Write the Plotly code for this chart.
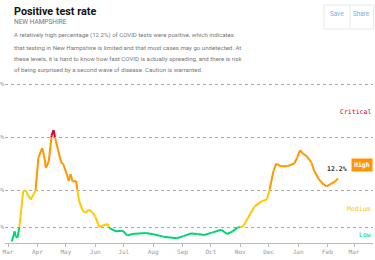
import plotly.graph_objects as go
import pandas as pd

dates = ["2020-03-05","2020-03-08","2020-03-09","2020-03-11","2020-03-13","2020-03-17","2020-03-20",
         "2020-03-22","2020-03-25","2020-03-28","2020-03-30","2020-04-02","2020-04-06","2020-04-08",
         "2020-04-10","2020-04-13","2020-04-16","2020-04-18","2020-04-20","2020-04-23","2020-04-26",
         "2020-04-28","2020-05-02","2020-05-04","2020-05-06","2020-05-08","2020-05-12","2020-05-13",
         "2020-05-15","2020-05-19","2020-05-22","2020-05-25","2020-05-29","2020-06-01","2020-06-05",
         "2020-06-09","2020-06-14","2020-06-16","2020-06-23","2020-06-30","2020-07-05","2020-07-10",
         "2020-07-17","2020-07-24","2020-07-31","2020-08-12","2020-08-26","2020-09-02","2020-09-10",
         "2020-09-17","2020-09-24","2020-10-03","2020-10-12","2020-10-18","2020-10-24","2020-10-29",
         "2020-11-04","2020-11-09","2020-11-16","2020-11-24","2020-11-29","2020-12-02","2020-12-06",
         "2020-12-09","2020-12-13","2020-12-21","2020-12-28","2020-12-31","2021-01-03","2021-01-06",
         "2021-01-10","2021-01-15","2021-01-18","2021-01-23","2021-01-28","2021-01-31","2021-02-05",
         "2021-02-09","2021-02-11","2021-02-12"]
values = [0.3,2.2,1.2,1.0,3.1,9.8,9.9,
          9.0,8.2,9.2,9.8,16.1,17.9,16.5,
          14.2,15.4,20.3,21.3,19.6,17.4,15.2,
          15.0,13.0,11.7,13.0,11.6,11.7,10.1,
          7.9,6.0,5.7,6.3,5.8,5.0,3.1,
          3.3,3.6,2.8,2.2,2.3,1.4,1.7,
          1.8,1.9,1.7,1.2,0.9,1.3,1.8,
          1.7,1.5,2.0,2.5,1.7,2.2,2.9,
          3.1,4.7,6.9,7.9,8.2,10.1,13.6,
          15.0,14.5,14.5,15.0,16.1,17.5,16.9,
          16.4,15.2,13.6,12.0,11.0,10.7,11.2,
          11.6,12.0,12.2]

thresholds = [3, 10, 20]
zone_names = ["Low", "Medium", "High", "Critical"]
zone_colors = ["#00d474", "#ffc900", "#ff9600", "#d9002c"]
tick_vals = [3, 10, 20, 30]
tick_text = ["3%", "10%", "20%", "30%"]
last_label = "12.2%"

title = "Positive test rate"
subtitle = "NEW HAMPSHIRE"
paragraph = [
    "A relatively high percentage (12.2%) of COVID tests were positive, which indicates",
    "that testing in New Hampshire is limited and that most cases may go undetected. At",
    "these levels, it is hard to know how fast COVID is actually spreading, and there is risk",
    "of being surprised by a second wave of disease. Caution is warranted.",
]

# --- split the line into colour zones at threshold crossings ---
ts = [pd.Timestamp(d) for d in dates]
def zone(v):
    z = 0
    for t in thresholds:
        if v > t:
            z += 1
    return z

segs = {i: ([], []) for i in range(4)}
for i in range(len(ts) - 1):
    t0, t1 = ts[i], ts[i + 1]
    v0, v1 = values[i], values[i + 1]
    pts = [(0.0, v0)]
    lo, hi = min(v0, v1), max(v0, v1)
    cross = sorted([(th - v0) / (v1 - v0) for th in thresholds if lo < th < hi])
    for f in cross:
        pts.append((f, v0 + f * (v1 - v0)))
    pts.append((1.0, v1))
    for a, b in zip(pts[:-1], pts[1:]):
        z = zone((a[1] + b[1]) / 2)
        xs, ys = segs[z]
        xs += [t0 + (t1 - t0) * a[0], t0 + (t1 - t0) * b[0], None]
        ys += [a[1], b[1], None]

fig = go.Figure()
for z in range(4):
    xs, ys = segs[z]
    fig.add_trace(go.Scatter(x=xs, y=ys, mode="lines", name=zone_names[z],
                             line=dict(color=zone_colors[z], width=2),
                             hoverinfo="skip", showlegend=False))

mono = "DejaVu Sans Mono"
fig.update_layout(
    width=375, height=260,
    margin=dict(l=5, r=2, t=83, b=17, autoexpand=False),
    paper_bgcolor="white", plot_bgcolor="white",
    font=dict(family=mono, color="#999"),
    xaxis=dict(range=["2020-02-26 19:00", "2021-03-21"], showgrid=False,
               tickformat="%b", dtick="M1", tick0="2020-03-01",
               ticks="outside", ticklen=3, tickcolor="#bbb", automargin=False,
               showline=True, linecolor="#bbb", linewidth=1,
               tickfont=dict(size=6, family=mono, color="#999"), zeroline=False),
    yaxis=dict(range=[0, 30.2], tickvals=tick_vals, ticktext=tick_text, automargin=False,
               showgrid=True, gridcolor="#aaa", griddash="dot", gridwidth=1,
               tickfont=dict(size=6, family=mono, color="#999"),
               zeroline=False, showline=False, ticks=""),
)

# zone labels on the right
fig.add_annotation(x=1, xref="paper", y=24.7, yref="y", text="Critical", showarrow=False,
                   xanchor="right", font=dict(size=6.5, family=mono, color=zone_colors[3]))
fig.add_annotation(x=1, xref="paper", y=14.7, yref="y", text="<b>High</b>", showarrow=False,
                   xanchor="right", bgcolor=zone_colors[2], borderpad=2,
                   font=dict(size=6.5, family=mono, color="white"))
fig.add_annotation(x=1, xref="paper", y=6.4, yref="y", text="Medium", showarrow=False,
                   xanchor="right", font=dict(size=6.5, family=mono, color=zone_colors[1]))
fig.add_annotation(x=1, xref="paper", y=1.5, yref="y", text="Low", showarrow=False,
                   xanchor="right", font=dict(size=6.5, family=mono, color=zone_colors[0]))
# last value label
fig.add_annotation(x=ts[-1], y=values[-1], text="<b>" + last_label + "</b>", showarrow=False,
                   yshift=9, xshift=-1, font=dict(size=6.5, family=mono, color="#333"))

# place header items in pixel-derived paper coordinates
W0, W1 = 5, 373
H0, H1 = 83, 243
def px(x):
    return (x - W0) / (W1 - W0)
def py(y):
    return (H1 - y) / (H1 - H0)

fig.add_annotation(x=px(12), y=py(11.7), xref="paper", yref="paper", text="<b>" + title + "</b>",
                   showarrow=False, xanchor="left", yanchor="middle",
                   font=dict(size=10.8, family="Roboto", color="#111"))
fig.add_annotation(x=px(12), y=py(22.3), xref="paper", yref="paper", text=subtitle,
                   showarrow=False, xanchor="left", yanchor="middle",
                   font=dict(size=6.5, family="Roboto", color="#777"))
line_y = [35.3, 47.2, 58.2, 69.6]
for line, yy in zip(paragraph, line_y):
    fig.add_annotation(x=px(11.5), y=py(yy), xref="paper", yref="paper", text=line,
                       showarrow=False, xanchor="left", yanchor="middle",
                       font=dict(size=6.1, family="Roboto", color="#777"))
fig.add_annotation(x=px(337), y=py(14.5), xref="paper", yref="paper", text="Save",
                   showarrow=False, xanchor="center", yanchor="middle",
                   font=dict(size=6.3, family="Roboto", color="#6db3e6"))
fig.add_annotation(x=px(361), y=py(14.5), xref="paper", yref="paper", text="Share",
                   showarrow=False, xanchor="center", yanchor="middle",
                   font=dict(size=6.3, family="Roboto", color="#6db3e6"))

# button box
fig.add_shape(type="rect", xref="paper", yref="paper", x0=px(324), x1=px(373.5),
              y0=py(5), y1=py(29), line=dict(color="#e8e8e8", width=1), fillcolor="rgba(0,0,0,0)")
fig.add_shape(type="line", xref="paper", yref="paper", x0=px(350), x1=px(350),
              y0=py(5), y1=py(29), line=dict(color="#e8e8e8", width=1))

fig.write_html("out.html", config={"displayModeBar": False},
               post_script="document.body.style.margin='0';")
